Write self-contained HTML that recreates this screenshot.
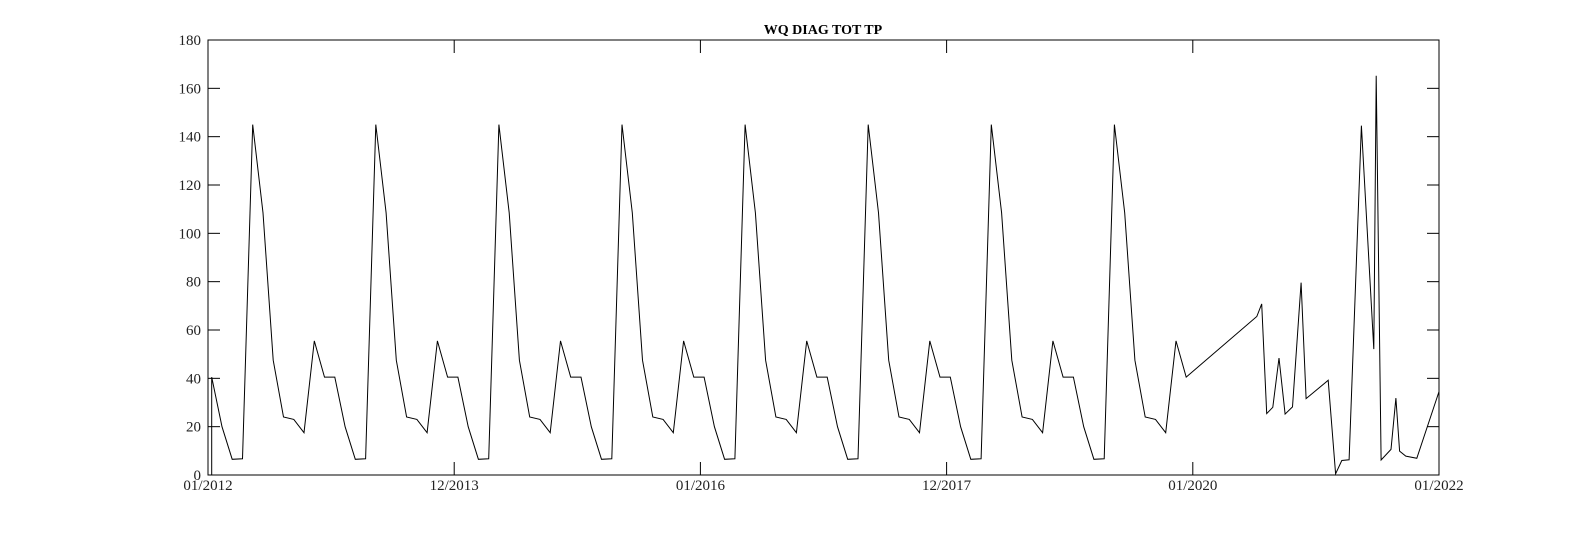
<!DOCTYPE html>
<html><head><meta charset="utf-8"><style>
html,body{margin:0;padding:0;background:#fff;}
svg{display:block;font-family:"Liberation Serif",serif;}
</style></head><body>
<svg id="chart" width="1591" height="536" viewBox="0 0 1591 536" xmlns="http://www.w3.org/2000/svg">
<text x="823" y="34" text-anchor="middle" font-size="14" font-weight="bold">WQ DIAG TOT TP</text>
<g id="axes"></g>
<path id="series" fill="none" stroke="#000" stroke-width="1"/>
</svg>
<script>
// monthly values 2012-2019 (Jan..Dec)
const monthlyValues = [
 40.5,20,6.5,6.7,145,108.5,47.5,24,23,17.5,55.5,40.5,
 40.5,20,6.5,6.7,145,108.5,47.5,24,23,17.5,55.5,40.5,
 40.5,20,6.5,6.7,145,108.5,47.5,24,23,17.5,55.5,40.5,
 40.5,20,6.5,6.7,145,108.5,47.5,24,23,17.5,55.5,40.5,
 40.5,20,6.5,6.7,145,108.5,47.5,24,23,17.5,55.5,40.5,
 40.5,20,6.5,6.7,145,108.5,47.5,24,23,17.5,55.5,40.5,
 40.5,20,6.5,6.7,145,108.5,47.5,24,23,17.5,55.5,40.5,
 40.5,20,6.5,6.7,145,108.5,47.5,24,23,17.5,55.5,40.5
];
const startYear = 2012;
const monthOffset = 0.03;
// irregular observations 2020-2021 (decimal year, value)
const lateDates = [2020.52,2020.56,2020.60,2020.65,2020.70,2020.75,2020.81,2020.88,2020.92,2021.10,2021.16,2021.21,2021.27,2021.37,2021.47,2021.49,2021.53,2021.61,2021.65,2021.68,2021.73,2021.82,2022.0];
const lateValues = [65.6,70.8,25.4,28,48.4,25.2,28.2,79.6,31.6,39.2,0.5,6,6.3,144.6,52.1,165.2,6.2,10.6,31.8,9.9,7.8,6.9,34.5];
const yTicks = [0,20,40,60,80,100,120,140,160,180];
const xTickYears = [2012,2014,2016,2018,2020,2022];
const xTickLabels = ["01/2012","12/2013","01/2016","12/2017","01/2020","01/2022"];

const L=208,R=1439,T=40,B=475,xMin=2012,xMax=2022,yMin=0,yMax=180;
const xs=v=>L+(v-xMin)/(xMax-xMin)*(R-L);
const ys=v=>B-(v-yMin)/(yMax-yMin)*(B-T);
const NS="http://www.w3.org/2000/svg";
const axes=document.getElementById('axes');
function mk(tag,attrs){const e=document.createElementNS(NS,tag);for(const k in attrs)e.setAttribute(k,attrs[k]);return e;}

const box=mk('rect',{x:L,y:T,width:R-L,height:B-T,fill:'none',stroke:'#000','stroke-width':1});


axes.appendChild(box);

yTicks.forEach(v=>{
  const y=ys(v);
  const t1=mk('line',{x1:L,x2:L+12,y1:y,y2:y,stroke:'#000'});
  
  
  axes.appendChild(t1);
  const t2=mk('line',{x1:R,x2:R-12,y1:y,y2:y,stroke:'#000'});
  
  
  axes.appendChild(t2);
  const tx=mk('text',{x:L-7,y:y+5,'text-anchor':'end','font-size':15,fill:'#222'});
  tx.textContent=v;
  
  
  axes.appendChild(tx);
});
xTickYears.forEach((v,i)=>{
  const x=xs(v);
  const t1=mk('line',{x1:x,x2:x,y1:B,y2:B-13,stroke:'#000'});
  
  
  axes.appendChild(t1);
  const t2=mk('line',{x1:x,x2:x,y1:T,y2:T+13,stroke:'#000'});
  
  
  axes.appendChild(t2);
  const tx=mk('text',{x:x,y:B+15,'text-anchor':'middle','font-size':15,fill:'#222'});
  tx.textContent=xTickLabels[i];
  
  
  axes.appendChild(tx);
});

const pts=[[startYear+monthOffset/12*12*0+monthOffset,0]];
monthlyValues.forEach((v,i)=>pts.push([startYear+i/12+monthOffset,v]));
lateDates.forEach((d,i)=>pts.push([d,lateValues[i]]));
document.getElementById('series').setAttribute('d',pts.map((p,i)=>(i?'L':'M')+xs(p[0]).toFixed(1)+' '+ys(p[1]).toFixed(1)).join(' '));
</script>
</body></html>
